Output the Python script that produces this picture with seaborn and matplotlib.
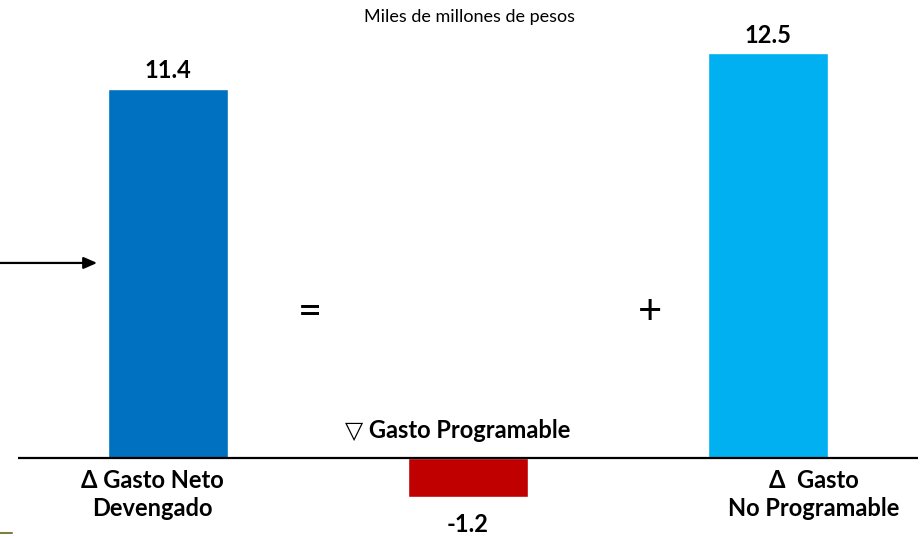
import matplotlib
matplotlib.use("Agg")
import matplotlib.pyplot as plt
import seaborn as sns
import pandas as pd

categorias = ["Gasto Neto Devengado", "Gasto Programable", "Gasto No Programable"]
valores = [11.4, -1.2, 12.5]
colores = ["#0070C0", "#C00000", "#00B0F0"]
etiquetas = ["11.4", "-1.2", "12.5"]

sns.set_style("white")
plt.rcParams["font.family"] = ["Lato", "DejaVu Sans"]
plt.rcParams["text.color"] = "black"

df = pd.DataFrame({"categoria": categorias, "valor": valores})

fig = plt.figure(figsize=(9.23, 5.37), dpi=100)
ax = fig.add_axes([18 / 923, 0, 900 / 923, 1])
sns.barplot(data=df, x="categoria", y="valor", hue="categoria",
            palette=colores, width=0.4, legend=False, ax=ax, saturation=1)

px = 32.4  # pixeles por unidad
ax.set_xlim(-0.5, 2.5)
ax.set_ylim(-79 / px, 458 / px)
ax.axhline(0, color="black", lw=1.6)
for s in ax.spines.values():
    s.set_visible(False)
ax.set_xticks([])
ax.set_yticks([])
ax.set_xlabel("")
ax.set_ylabel("")

# etiquetas de valor
for i, (v, t) in enumerate(zip(valores, etiquetas)):
    off = 0.55 if v > 0 else -0.85
    ax.text(i, v + off, t, ha="center", va="center", fontsize=17, fontweight="bold")

# textos de categorias
ax.text(-0.053, -1.12, "\u0394 Gasto Neto\nDevengado", ha="center", va="center",
        fontsize=17, fontweight="bold", linespacing=1.25)
ax.text(2.153, -1.12, "\u0394  Gasto\nNo Programable", ha="center", va="center",
        fontsize=17, fontweight="bold", linespacing=1.25)
ax.text(0.965, 0.85, "\u25BD Gasto Programable", ha="center", va="center",
        fontsize=17, fontweight="bold")

# signos
ax.text(0.473, 4.5, "=", ha="center", va="center", fontsize=30, fontweight="normal")
ax.text(1.607, 4.5, "+", ha="center", va="center", fontsize=30, fontweight="normal")

fig.text(470 / 923, 1 - 17 / 537, "Miles de millones de pesos", ha="center",
         va="center", fontsize=13)

# flecha izquierda
ax.annotate("", xy=(-0.227, 6.02), xytext=(-0.6, 6.02),
            arrowprops=dict(arrowstyle="-|>,head_length=0.8,head_width=0.35",
                            color="black", lw=1.6), annotation_clip=False)

# linea pequena abajo a la izquierda
fig.add_artist(plt.Line2D([0, 12 / 923], [4 / 537, 4 / 537], color="#7F7F3F", lw=1.5))

fig.savefig("out.png", dpi=100)
